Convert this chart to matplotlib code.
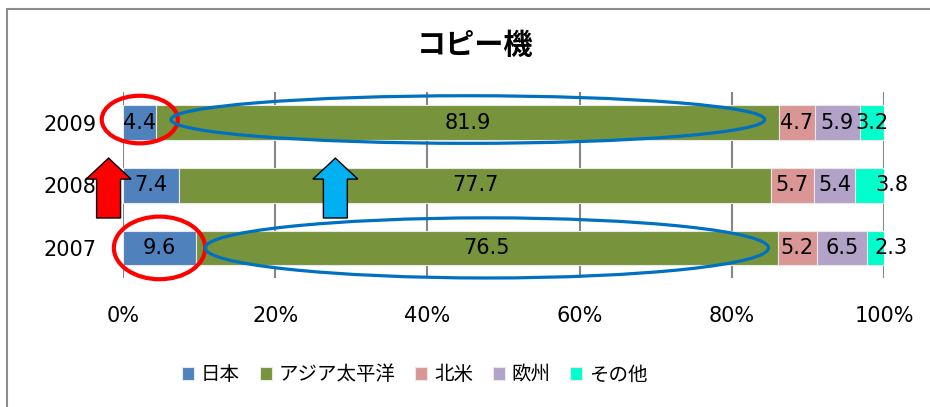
import numpy as np
import matplotlib
matplotlib.use('Agg')
from matplotlib import pyplot as plt
import matplotlib.patches as mpatches

plt.rcParams['font.family'] = ['DejaVu Sans', 'Noto Sans CJK JP']

years = ['2007', '2008', '2009']
regions = ['日本', 'アジア太平洋', '北米', '欧州', 'その他']
japan = [9.6, 7.4, 4.4]
asia = [76.5, 77.7, 81.9]
namerica = [5.2, 5.7, 4.7]
europe = [6.5, 5.4, 5.9]
other = [2.3, 3.8, 3.2]
colors = ['#4F81BD', '#77933C', '#D99694', '#B3A2C7', '#00FFCC']

series = np.array([japan, asia, namerica, europe, other])
shares = series / series.sum(axis=0) * 100   # 100% stacked

fig = plt.figure(figsize=(9.3, 4.07), dpi=100)
# chart frame (runs off the right/bottom edge like the screenshot)
fig.patches.append(mpatches.Rectangle((0.0075, -0.1), 1.2, 1.078, transform=fig.transFigure,
                                      fill=False, edgecolor='#8c8c8c', lw=1.5))
ax = fig.add_axes([0.1323, 0.317, 0.8183, 0.457])

y = np.arange(len(years))
left = np.zeros(len(years))
# excel nudges the small end labels to the right
other_shift = [11, 16, 0]
for i in range(len(regions)):
    ax.barh(y, shares[i], left=left, height=0.55, color=colors[i],
            edgecolor='#e8e8e8', linewidth=0.8, label=regions[i], zorder=3)
    for j in range(len(years)):
        dx = other_shift[j] if i == len(regions) - 1 else 0
        ax.annotate('%.1f' % series[i][j], (left[j] + shares[i][j] / 2, y[j]),
                    xytext=(dx, 0), textcoords='offset points',
                    ha='center', va='center', fontsize=15, zorder=4)
    left += shares[i]

ax.set_xlim(0, 100)
ax.set_ylim(-0.48, 2.49)
ax.set_xticks(np.arange(0, 101, 20))
ax.set_xticklabels(['%d%%' % v for v in range(0, 101, 20)], fontsize=15)
ax.set_yticks(y)
ax.set_yticklabels(years, fontsize=15)
ax.tick_params(axis='x', length=0, pad=20)
ax.tick_params(axis='y', length=0, pad=19)
ax.xaxis.grid(True, color='#868686', lw=1.5)
ax.set_axisbelow(True)
for s in ax.spines.values():
    s.set_visible(False)

# highlight marks
ax.add_patch(mpatches.Ellipse((shares[0][2] / 2, 2.05), 10, 0.76, fill=False, ec='#FF0000', lw=3, zorder=6, clip_on=False))
ax.add_patch(mpatches.Ellipse((shares[0][0] / 2, 0), 12, 1.0, fill=False, ec='#FF0000', lw=3, zorder=6, clip_on=False))
ax.add_patch(mpatches.Ellipse((shares[0][2] + shares[1][2] / 2, 2.05), 78, 0.76, fill=False, ec='#0070C0', lw=2.3, zorder=6, clip_on=False))
ax.add_patch(mpatches.Ellipse((shares[0][0] + shares[1][0] / 2, 0), 74, 0.96, fill=False, ec='#0070C0', lw=2.3, zorder=6, clip_on=False))

ax.add_patch(mpatches.FancyArrow(-1.9, 0.478, 0, 0.956, width=3.15, head_width=5.9, head_length=0.335,
                                 length_includes_head=True, fc='#FF0000', ec='black', lw=1, zorder=6, clip_on=False))
ax.add_patch(mpatches.FancyArrow(27.9, 0.478, 0, 0.956, width=3.15, head_width=5.9, head_length=0.335,
                                 length_includes_head=True, fc='#00B0F0', ec='black', lw=1, zorder=6, clip_on=False))

fig.text(0.511, 0.889, 'コピー機', ha='center', va='center', fontsize=21, fontweight='bold',
         family='Noto Sans CJK JP')

fig.legend(loc='center', bbox_to_anchor=(0.446, 0.079), ncol=5, frameon=False,
           prop={'family': 'Noto Sans CJK JP', 'size': 14},
           handlelength=0.62, handleheight=0.62, handletextpad=0.36, columnspacing=1.0)

fig.savefig('out.png', dpi=100)
